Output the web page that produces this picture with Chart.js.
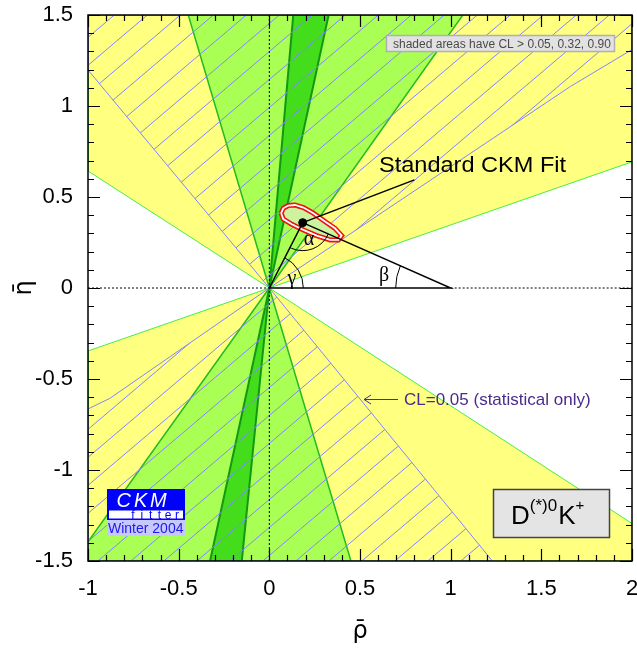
<!DOCTYPE html>
<html>
<head>
<meta charset="utf-8">
<script src="https://cdn.jsdelivr.net/npm/chart.js@4.4.1/dist/chart.umd.min.js"></script>
<style>
html,body{margin:0;padding:0;background:#fff}
</style>
</head>
<body>
<canvas id="chart" width="637" height="648"></canvas>
<script>
// axis ticks
var xTicks = [-1, -0.5, 0, 0.5, 1, 1.5, 2]
var xTickLabels = ['-1', '-0.5', '0', '0.5', '1', '1.5', '2']
var yTicks = [-1.5, -1, -0.5, 0, 0.5, 1, 1.5]
var yTickLabels = ['-1.5', '-1', '-0.5', '0', '0.5', '1', '1.5']

// gamma from D(*)0 K+ : wedges through the origin, corners
var clYellowUp = [[0, 0], [2, 0.693], [2, 1.5], [-1, 1.5], [-1, 0.643]]
var clYellowDown = [[0, 0], [-1, -0.346], [-1, -1.5], [2, -1.5], [2, -1.294]]
var clGreenUp = [[0, 0], [1.067, 1.5], [-0.447, 1.5]]
var clGreenDown = [[0, 0], [-1, -1.395], [-1, -1.5], [0.45, -1.5]]
var clDarkUp = [[0, 0], [0.327, 1.5], [0.132, 1.5]]
var clDarkDown = [[0, 0], [-0.152, -1.5], [-0.327, -1.5]]
// CL = 0.05, statistical only (hatched)
var statUp = [[0, 0], [1.66, 1.107], [2, 1.31], [2, 1.5], [-1, 1.5], [-1, 1.198]]
var statDown = [[0, 0], [1.23, -1.5], [-1, -1.5], [-1, -0.665], [-0.879, -0.606]]

// standard CKM fit
var fitContour = [[0.065, 0.411], [0.077, 0.438], [0.105, 0.453], [0.142, 0.456], [0.188, 0.442],
  [0.243, 0.411], [0.307, 0.365], [0.362, 0.328], [0.399, 0.288], [0.381, 0.264], [0.335, 0.264],
  [0.261, 0.288], [0.188, 0.319], [0.124, 0.350], [0.077, 0.379]]
var apex = [0.184, 0.359]
var triangle = [[0, 0], [1, 0], apex, [0, 0]]
var fitLabelLine = [apex, [0.80, 0.594]]

Chart.defaults.font.family = "'Liberation Sans', Arial, sans-serif"

function pts(arr) {
  return arr.map(function (p) { return {x: p[0], y: p[1]} })
}

function hatch() {
  var c = document.createElement('canvas')
  c.width = 33; c.height = 28
  var g = c.getContext('2d')
  g.strokeStyle = '#8484ff'
  g.lineWidth = 1
  var off = [[0, 0], [0, 28], [0, -28], [33, 0], [-33, 0]]
  g.beginPath()
  off.forEach(function (o) { g.moveTo(o[0], 28 + o[1]); g.lineTo(33 + o[0], o[1]) })
  g.stroke()
  return g.createPattern(c, 'repeat')
}

function poly(arr, fillColor, lineColor, lw) {
  return {data: pts(arr.concat([arr[0]])), showLine: true, fill: 'shape', backgroundColor: fillColor,
    borderColor: lineColor, borderWidth: lw, pointRadius: 0}
}
function line(arr, color, lw, dash) {
  return {data: pts(arr), showLine: true, fill: false, borderColor: color, borderWidth: lw,
    borderDash: dash || [], pointRadius: 0}
}

var pattern = hatch()
var sets = [
  poly(clYellowUp, '#ffff80', '#44ee44', 1),
  poly(clYellowDown, '#ffff80', '#44ee44', 1),
  poly(clGreenUp, '#aaff55', '#22bb22', 1.5),
  poly(clGreenDown, '#aaff55', '#22bb22', 1.5),
  poly(clDarkUp, '#44dd1c', '#119911', 2),
  poly(clDarkDown, '#44dd1c', '#119911', 2),
  poly(statUp, pattern, '#8484ff', 1),
  poly(statDown, pattern, '#8484ff', 1),
  line([[0, -1.5], [0, 1.5]], '#000', 1, [2, 2]),
  line([[-1, 0], [0, 0]], '#000', 1, [2, 2]),
  line([[1, 0], [2, 0]], '#000', 1, [2, 2]),
  poly(fitContour, '#cdf3a0', '#ee1111', 5),
  line(fitContour.concat([fitContour[0]]), '#ffffff', 1.8),
  line(triangle, '#000', 1.5),
  line(fitLabelLine, '#000', 1.5),
  {data: pts([apex]), pointRadius: 4, pointBackgroundColor: '#000', pointBorderColor: '#000'}
]
sets.forEach(function (d, i) { d.order = sets.length - i })

function txt(ctx, s, x, y, font, color, align, sx) {
  ctx.save()
  ctx.translate(x, y)
  ctx.scale(sx || 1, 1)
  ctx.font = font
  ctx.fillStyle = color
  ctx.textAlign = align || 'left'
  ctx.textBaseline = 'alphabetic'
  ctx.fillText(s, 0, 0)
  ctx.restore()
}

var deco = {
  id: 'deco',
  afterDraw: function (chart) {
    var ctx = chart.ctx, a = chart.chartArea, xs = chart.scales.x, ys = chart.scales.y
    ctx.save()
    // frame and inside ticks
    ctx.strokeStyle = '#000'
    ctx.lineWidth = 1.5
    ctx.strokeRect(a.left, a.top, a.right - a.left, a.bottom - a.top)
    ctx.lineWidth = 1.2
    ctx.beginPath()
    for (var i = -10; i <= 20; i++) {
      var px = Math.round(xs.getPixelForValue(i / 10)) + 0.5
      var L = i % 5 === 0 ? 12 : 6
      ctx.moveTo(px, a.bottom); ctx.lineTo(px, a.bottom - L)
      ctx.moveTo(px, a.top); ctx.lineTo(px, a.top + L)
    }
    for (var j = -15; j <= 15; j++) {
      var py = Math.round(ys.getPixelForValue(j / 10)) + 0.5
      var M = j % 5 === 0 ? 12 : 6
      ctx.moveTo(a.left, py); ctx.lineTo(a.left + M, py)
      ctx.moveTo(a.right, py); ctx.lineTo(a.right - M, py)
    }
    ctx.stroke()

    // angle arcs
    var ox = xs.getPixelForValue(0), oy = ys.getPixelForValue(0)
    var bx = xs.getPixelForValue(1), by = ys.getPixelForValue(0)
    var ax = xs.getPixelForValue(apex[0]), ay = ys.getPixelForValue(apex[1])
    ctx.lineWidth = 1
    ctx.beginPath(); ctx.arc(ox, oy, 34, Math.atan2(ay - oy, ax - ox), 0); ctx.stroke()
    ctx.beginPath(); ctx.arc(ax, ay, 28, Math.atan2(by - ay, bx - ax), Math.atan2(oy - ay, ox - ax)); ctx.stroke()
    ctx.beginPath(); ctx.arc(bx, by, 55, -Math.PI, Math.atan2(ay - by, ax - bx)); ctx.stroke()
    var serif = "20px 'Liberation Serif', serif"
    txt(ctx, '\u03B3', 292, 284, serif, '#000', 'center')
    txt(ctx, '\u03B1', 309, 245, serif, '#000', 'center')
    txt(ctx, '\u03B2', 384, 281, serif, '#000', 'center')

    txt(ctx, 'Standard CKM Fit', 379, 172, "22px 'Liberation Sans'", '#000', 'left', 1.07)

    // CL legend box
    ctx.fillStyle = '#e2e2e2'
    ctx.fillRect(386.5, 35.5, 228, 16)
    ctx.strokeStyle = '#b0b0b0'
    ctx.lineWidth = 1.5
    ctx.strokeRect(386.5, 35.5, 228, 16)
    txt(ctx, 'shaded areas have CL > 0.05, 0.32, 0.90', 393, 48, "12px 'Liberation Sans'", '#4a4a4a')

    // statistical only arrow
    ctx.strokeStyle = '#4a2a8c'
    ctx.lineWidth = 1
    ctx.beginPath()
    ctx.moveTo(398, 399.5); ctx.lineTo(364, 399.5)
    ctx.moveTo(371, 395); ctx.lineTo(364, 399.5); ctx.lineTo(371, 404)
    ctx.stroke()
    txt(ctx, 'CL=0.05 (statistical only)', 404, 405, "17px 'Liberation Sans'", '#4a2a8c')

    // channel box
    ctx.fillStyle = '#e4e4e4'
    ctx.fillRect(493.5, 489.5, 116, 48)
    ctx.strokeStyle = '#444'
    ctx.lineWidth = 1.5
    ctx.strokeRect(493.5, 489.5, 116, 48)
    ctx.font = "26px 'Liberation Sans'"
    var x = 511
    txt(ctx, 'D', x, 524, "26px 'Liberation Sans'", '#000')
    x += ctx.measureText('D').width
    ctx.font = "17px 'Liberation Sans'"
    txt(ctx, '(*)0', x, 511, "17px 'Liberation Sans'", '#000')
    x += ctx.measureText('(*)0').width + 1
    ctx.font = "26px 'Liberation Sans'"
    txt(ctx, 'K', x, 524, "26px 'Liberation Sans'", '#000')
    x += ctx.measureText('K').width
    txt(ctx, '+', x, 510, "15px 'Liberation Sans'", '#000')

    // CKMfitter logo
    ctx.fillStyle = '#0000ff'
    ctx.fillRect(107, 489, 78, 31)
    ctx.fillStyle = '#ffffff'
    ctx.fillRect(109, 510.5, 74, 8)
    ctx.fillStyle = '#c8c8ff'
    ctx.fillRect(107, 520, 78, 16)
    var ck = ['C', 'K', 'M'], cx = [116.5, 134, 150]
    ck.forEach(function (c, k) { txt(ctx, c, cx[k], 506.5, "italic 20px 'Liberation Sans'", '#ffffff') })
    'fitter'.split('').forEach(function (c, k) { txt(ctx, c, 133 + k * 8.8, 518.5, "12px 'Liberation Sans'", '#0000ff', 'center') })
    txt(ctx, 'Winter 2004', 108, 533, "14px 'Liberation Sans'", '#1a1aee')
    ctx.restore()
  }
}

new Chart(document.getElementById('chart'), {
  type: 'scatter',
  data: {datasets: sets},
  options: {
    responsive: false,
    animation: false,
    layout: {padding: {top: 15, right: 5, left: 0, bottom: 0}},
    plugins: {legend: {display: false}, tooltip: {enabled: false}},
    scales: {
      x: {
        type: 'linear', min: -1, max: 2,
        afterBuildTicks: function (s) { s.ticks = xTicks.map(function (v) { return {value: v} }) },
        afterFit: function (s) { s.height = 87; s.paddingLeft = 0; s.paddingRight = 0 },
        grid: {display: false, drawTicks: false},
        border: {display: false},
        ticks: {padding: 15, color: '#000', font: {size: 22}, maxRotation: 0, autoSkip: false,
          callback: function (v, i) { return xTickLabels[i] }},
        title: {display: true, text: '\u03C1\u0304', color: '#000',
          font: {size: 24, family: "'DejaVu Sans', sans-serif"}, padding: {top: 0, bottom: 2}}
      },
      y: {
        type: 'linear', min: -1.5, max: 1.5,
        afterBuildTicks: function (s) { s.ticks = yTicks.map(function (v) { return {value: v} }) },
        afterFit: function (s) { s.width = 88; s.paddingTop = 0; s.paddingBottom = 0 },
        grid: {display: false, drawTicks: false},
        border: {display: false},
        ticks: {padding: 15, color: '#000', font: {size: 22}, autoSkip: false,
          callback: function (v, i) { return yTickLabels[i] }},
        title: {display: true, text: '\u03B7\u0304', color: '#000',
          font: {size: 24, family: "'DejaVu Sans', sans-serif"}, padding: {top: 10, bottom: 0}}
      }
    }
  },
  plugins: [deco]
})
</script>
</body>
</html>
